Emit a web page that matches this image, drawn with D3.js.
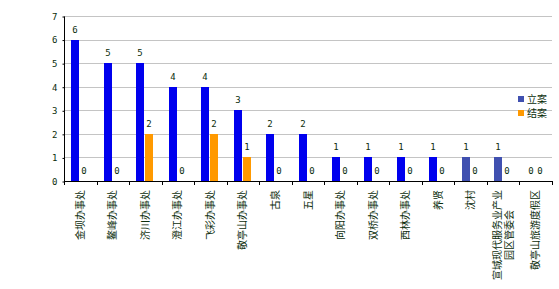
<!DOCTYPE html>
<html>
<head>
<meta charset="utf-8">
<script src="https://cdn.jsdelivr.net/npm/d3@7"></script>
<style>
  html, body { margin: 0; padding: 0; background: #fff; }
  svg { display: block; }
</style>
</head>
<body>
<svg id="chart" width="559" height="289"></svg>
<script>
// Units, one entry per category ("|" splits a label onto two lines)
const categories = [
  "金坝办事处", "鳌峰办事处", "济川办事处", "澄江办事处", "飞彩办事处",
  "敬亭山办事处", "古泉", "五星", "向阳办事处", "双桥办事处",
  "西林办事处", "养贤", "沈村", "宣城现代服务业产业|园区管委会", "敬亭山旅游度假区"
];
// 立案 (cases filed)
const filed  = [6, 5, 5, 4, 4, 3, 2, 2, 1, 1, 1, 1, 1, 1, 0];
// 结案 (cases closed)
const closed = [0, 0, 2, 0, 2, 1, 0, 0, 0, 0, 0, 0, 0, 0, 0];
const seriesNames = ["立案", "结案"];
const yTicks = [0, 1, 2, 3, 4, 5, 6, 7];

(function draw() {
  const svg = d3.select("#chart");
  const plotL = 64, plotR = 552, plotT = 16, plotB = 181;

  const x = d3.scaleBand().domain(d3.range(categories.length)).range([plotL, plotR]);
  const y = d3.scaleLinear().domain([0, 7]).range([plotB, plotT]);

  const blue = "#0000ee", blueSoft = "#4050b0", orange = "#ff9900";
  const textCol = "#0b2d0b";
  const band = x.bandwidth();
  const barW = 8;
  const blueOff = band / 2 - barW - 1;
  const orangeOff = band / 2;

  // grid lines
  svg.append("g").selectAll("line").data(yTicks.filter(d => d > 0)).join("line")
    .attr("x1", plotL).attr("x2", plotR)
    .attr("y1", d => Math.round(y(d)) + 0.5).attr("y2", d => Math.round(y(d)) + 0.5)
    .attr("stroke", "#c4c4c4").attr("stroke-width", 1);

  // y axis
  const yAxis = d3.axisLeft(y).tickValues(yTicks).tickSize(2).tickPadding(5).tickFormat(d3.format("d"));
  const gy = svg.append("g").attr("transform", `translate(${plotL + 0.5},0.5)`).call(yAxis);
  gy.select(".domain").attr("stroke", "#000").attr("d", `M0,${plotT}V${plotB}`);
  gy.selectAll(".tick line").attr("stroke", "#000");
  gy.selectAll(".tick text").attr("fill", textCol)
    .style("font-family", "DejaVu Sans Mono, monospace").style("font-size", "9px");

  // bars
  const g = svg.append("g");
  g.selectAll("rect.filed").data(filed).join("rect").attr("class", "filed")
    .attr("x", (d, i) => Math.round(x(i) + blueOff)).attr("width", barW)
    .attr("y", d => Math.round(y(d))).attr("height", d => plotB - Math.round(y(d)))
    .attr("fill", (d, i) => (i === 12 || i === 13) ? blueSoft : blue);
  g.selectAll("rect.closed").data(closed).join("rect").attr("class", "closed")
    .attr("x", (d, i) => Math.round(x(i) + orangeOff)).attr("width", barW)
    .attr("y", d => Math.round(y(d))).attr("height", d => plotB - Math.round(y(d)))
    .attr("fill", orange);

  // value labels
  const valStyle = sel => sel.attr("text-anchor", "middle").attr("fill", textCol)
    .style("font-family", "DejaVu Sans Mono, monospace").style("font-size", "9px");
  g.selectAll("text.fv").data(filed).join("text").attr("class", "fv")
    .attr("x", (d, i) => Math.round(x(i) + blueOff) + barW / 2).attr("y", d => y(d) - 7)
    .text(d => d).call(valStyle);
  g.selectAll("text.cv").data(closed).join("text").attr("class", "cv")
    .attr("x", (d, i) => Math.round(x(i) + orangeOff) + barW / 2).attr("y", d => y(d) - 7)
    .text(d => d).call(valStyle);

  // x axis with ticks on category boundaries
  svg.append("line").attr("x1", plotL).attr("x2", plotR + 1)
    .attr("y1", plotB + 0.5).attr("y2", plotB + 0.5).attr("stroke", "#000");
  svg.append("g").selectAll("line").data(d3.range(categories.length + 1)).join("line")
    .attr("x1", i => Math.round(plotL + i * band) + 0.5).attr("x2", i => Math.round(plotL + i * band) + 0.5)
    .attr("y1", plotB).attr("y2", plotB + 4).attr("stroke", "#000");

  // category labels, rotated, reading bottom to top
  const labels = svg.append("g");
  categories.forEach((c, i) => {
    const lines = c.split("|");
    const cx = x(i) + band / 2;
    const t = labels.append("text")
      .attr("transform", `translate(${cx},190) rotate(-90)`)
      .attr("fill", textCol)
      .style("font-family", "Noto Sans CJK SC, sans-serif").style("font-size", "10px");
    const spans = lines.map(ln => t.append("tspan").text(ln));
    const maxLen = d3.max(spans, s => s.node().getComputedTextLength());
    const lineGap = 12;
    spans.forEach((s, k) => {
      s.attr("text-anchor", "middle")
       .attr("x", -maxLen / 2)
       .attr("y", (k - (lines.length - 1) / 2) * lineGap + 3.5);
    });
  });

  // legend
  const legend = svg.append("g").attr("transform", "translate(518,96)");
  [blueSoft, orange].forEach((col, k) => {
    legend.append("rect").attr("x", 0).attr("y", k * 14).attr("width", 6).attr("height", 6).attr("fill", col);
    legend.append("text").attr("x", 9).attr("y", k * 14 + 7).text(seriesNames[k])
      .attr("fill", textCol).style("font-family", "Noto Sans CJK SC, sans-serif").style("font-size", "10px");
  });
})();
</script>
</body>
</html>
